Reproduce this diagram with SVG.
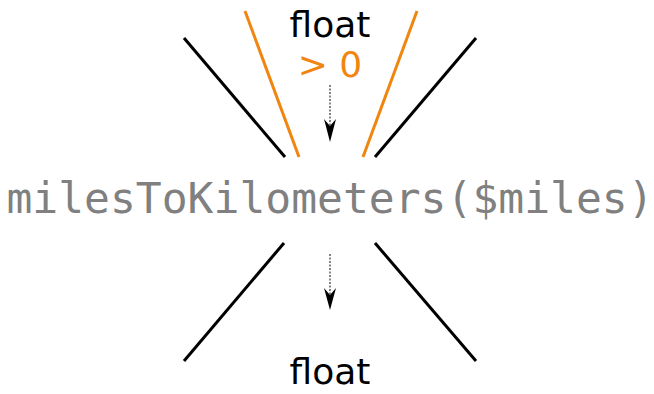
<svg xmlns="http://www.w3.org/2000/svg" width="654" height="394" viewBox="0 0 654 394">
<style>
.lbl{font-family:"DejaVu Sans",Verdana,sans-serif;font-size:36px;text-anchor:middle}
.code{font-family:"DejaVu Sans Mono","Liberation Mono",monospace;font-size:43px;fill:#808080;text-anchor:middle}
.blk{stroke:#000;stroke-width:3;fill:none}
.org{stroke:#f0850f;stroke-width:3;fill:none}
.arr{stroke:#333;stroke-width:1.2;stroke-dasharray:2,1.5;fill:none}
.head{fill:#000}
</style>
<g id="connectors">
<line class="blk" x1="184" y1="38" x2="285" y2="157"/>
<line class="blk" x1="476" y1="38" x2="375" y2="157"/>
<line class="org" x1="245" y1="11" x2="299" y2="157"/>
<line class="org" x1="417" y1="11" x2="363" y2="157"/>
<line class="blk" x1="284" y1="243" x2="184" y2="361"/>
<line class="blk" x1="375" y1="243" x2="476" y2="361"/>
<line class="arr" x1="330" y1="85" x2="330" y2="128"/>
<path class="head" d="M324,119 L330,142 L336,119 L330,126 Z"/>
<line class="arr" x1="330" y1="254" x2="330" y2="296"/>
<path class="head" d="M324,288 L330,310 L336,288 L330,295 Z"/>
</g>
<g id="input">
<text class="lbl" x="330" y="37" fill="#000">float</text>
<text class="lbl" x="330" y="77" fill="#f0850f">&gt; 0</text>
</g>
<g id="function">
<text class="code" x="330" y="213">milesToKilometers($miles)</text>
</g>
<g id="output">
<text class="lbl" x="330" y="384" fill="#000">float</text>
</g>
</svg>
